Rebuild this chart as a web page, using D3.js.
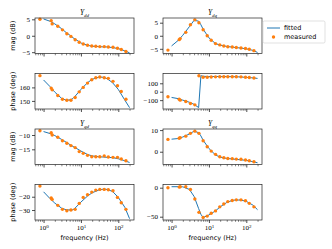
<!DOCTYPE html>
<html>
<head>
<meta charset="utf-8">
<script src="https://cdn.jsdelivr.net/npm/d3@7"></script>
<style>
  body { margin: 0; background: #fff; }
  svg { display: block; }
  .tick-label { font-family: "Liberation Serif", "DejaVu Serif", serif; font-size: 7px; fill: #000; }
  .axis-label { font-family: "DejaVu Sans", sans-serif; font-size: 6.5px; fill: #000; }
  .title { font-family: "Liberation Serif", "DejaVu Serif", serif; font-size: 7.5px; font-style: italic; }
  .legend-text { font-family: "DejaVu Sans", sans-serif; font-size: 6.5px; }
</style>
</head>
<body>
<div class="diagram-canvas"></div>
<script>
// measured frequencies (Hz) and fitted-curve frequencies
const freqMeas = [0.8, 1.6, 1.7, 2.4, 3.2, 4.2, 5.4, 7, 9, 11.5, 15, 19.5, 25, 32, 42, 54, 72, 95, 120, 160];
const freqFit = [1, 1.5, 2, 3, 4, 5.3, 6.1, 7, 10, 15, 20, 30, 40, 50, 70, 100, 150, 200];

// Y_dd
const magDdMeas = [5.0, 4.6, 3.6, 2.9, 1.8, 0.6, -0.2, -1.2, -2.0, -2.5, -2.9, -3.1, -3.2, -3.3, -3.3, -3.4, -3.5, -3.8, -4.2, -4.8];
const magDdFit = [5.1, 4.4, 3.6, 2.2, 1.0, 0.0, -0.6, -1.0, -2.2, -2.9, -3.2, -3.3, -3.4, -3.4, -3.6, -3.9, -4.6, -5.2];
const phDdMeas = [168.7, 159.5, 158.2, 154, 151.2, 150.5, 150.5, 152.5, 156.7, 160, 163.2, 165.7, 167.2, 167.7, 167.2, 166.7, 164.5, 161.2, 157, 151.2];
const phDdFit = [165.5, 160.5, 156.5, 152, 150.5, 150.8, 151.8, 153.5, 158.5, 163.5, 166, 167.6, 167.5, 166.5, 163.5, 158.5, 150.5, 145];

// Y_dq
const magDqMeas = [-5.5, -1.5, -1.1, 1.3, 4.2, 6.1, 5.0, 2.3, 0.0, -1.7, -3.0, -3.5, -3.9, -4.2, -4.3, -4.5, -4.7, -4.9, -5.2, -5.7];
const magDqFit = [-3.9, -1.8, 0.2, 3.5, 5.9, 5.6, 4.2, 2.5, -0.8, -3.0, -3.6, -4.1, -4.3, -4.5, -4.7, -5.0, -5.6, -6.4];
const phDqMeas = [-60, -88, -100, -116, -140, -156, 190, 172, 172, 175, 176, 178, 178, 178, 178, 178, 176, 172, 168, 162];
const phDqFit = [-68, -82, -100, -125, -150, -188, 190, 183, 180, 180, 180, 180, 179, 178, 175, 170, 164, 158];

// Y_qd
const magQdMeas = [-8.5, -9.2, -10, -10.8, -12, -12.9, -13.7, -14.4, -15.8, -16.4, -17.1, -17.6, -17.6, -17.6, -17.3, -17.7, -17.8, -17.8, -18.4, -19];
const magQdFit = [-8.8, -9.5, -10.2, -11.5, -12.5, -13.5, -14, -14.4, -15.6, -16.8, -17.3, -17.6, -17.7, -17.8, -17.9, -18.3, -19, -19.6];
const phQdMeas = [-12, -21, -22, -26.5, -29.5, -30.5, -30, -29.5, -25, -20.5, -18.5, -16.5, -15, -14.5, -14.5, -14.8, -15.5, -20.5, -24.5, -29.5];
const phQdFit = [-16.3, -21.5, -24.8, -28.5, -29.8, -30, -29.8, -28.5, -24, -19.5, -17, -15, -14.3, -14.5, -16, -20.5, -28, -36.5];

// Y_qq
const magQqMeas = [5.7, 6.2, 6.5, 7.2, 8.5, 9.5, 8.5, 5.1, 2.3, 0.3, -1.2, -2.3, -2.8, -3.1, -3.2, -3.4, -3.5, -3.8, -4.2, -4.6];
const magQqFit = [5.8, 6.1, 6.8, 8.2, 9.5, 8.8, 7.3, 5.3, 1.5, -1.5, -2.5, -3.1, -3.3, -3.5, -3.7, -4.0, -4.6, -5.1];
const phQqMeas = [0, 1, 1.5, 1.5, -3, -19.5, -42.5, -51.5, -49, -44, -40, -33, -28, -24, -22, -21, -21, -22.5, -27, -33];
const phQqFit = [1.7, 1.7, 1.5, -3, -15, -36, -46, -51.5, -47, -40, -33, -25.5, -22.5, -21.3, -21.3, -23.5, -30, -38];

// tick labels
const xTicksMajor = [1, 10, 100];
const yTicksMagDd = [-5, 0, 5];
const yTicksMagDq = [-5, 0, 5];
const yTicksPhDd = [150, 160];
const yTicksPhDq = [-100, 0, 100];
const yTicksMagQd = [-15, -10];
const yTicksMagQq = [0, 10];
const yTicksPhQd = [-30, -20];
const yTicksPhQq = [-50, 0];

const width = 332, height = 249;
const colX = [35, 163], axW = 99;
const rowY = [18, 73.5, 129, 184.5], axH = 35.5;
const blue = "#1f77b4", orange = "#ff7f0e";

const panels = [
  { col: 0, row: 0, meas: magDdMeas, fit: magDdFit, ticks: yTicksMagDd, domain: [-5.4, 5.4], title: ["Y", "dd"], ylabel: "mag (dB)" },
  { col: 1, row: 0, meas: magDqMeas, fit: magDqFit, ticks: yTicksMagDq, domain: [-6.8, 6.8], title: ["Y", "dq"] },
  { col: 0, row: 1, meas: phDdMeas, fit: phDdFit, ticks: yTicksPhDd, domain: [144, 170.3], ylabel: "phase (deg)" },
  { col: 1, row: 1, meas: phDqMeas, fit: phDqFit, ticks: yTicksPhDq, domain: [-205, 216] },
  { col: 0, row: 2, meas: magQdMeas, fit: magQdFit, ticks: yTicksMagQd, domain: [-20.3, -7.9], title: ["Y", "qd"], ylabel: "mag (dB)" },
  { col: 1, row: 2, meas: magQqMeas, fit: magQqFit, ticks: yTicksMagQq, domain: [-5.9, 10.5], title: ["Y", "qq"] },
  { col: 0, row: 3, meas: phQdMeas, fit: phQdFit, ticks: yTicksPhQd, domain: [-37.5, -10.8], ylabel: "phase (deg)", xlabel: true },
  { col: 1, row: 3, meas: phQqMeas, fit: phQqFit, ticks: yTicksPhQq, domain: [-55.7, 5.5], xlabel: true }
];

const svg = d3.select(".diagram-canvas").append("svg")
  .attr("width", width).attr("height", height);

const fmt = (v) => (v < 0 ? "\u2212" + Math.abs(v) : "" + v);

panels.forEach((p) => {
  const x0 = colX[p.col], y0 = rowY[p.row];
  const xScale = d3.scaleLog().domain([0.59, 263]).range([0, axW]);
  const yScale = d3.scaleLinear().domain(p.domain).range([axH, 0]);

  const g = svg.append("g").attr("transform", "translate(" + x0 + "," + y0 + ")");

  // fitted curve
  const line = d3.line().x((d, i) => xScale(freqFit[i])).y((d) => yScale(d));
  g.append("path").datum(p.fit)
    .attr("d", line).attr("fill", "none")
    .attr("stroke", blue).attr("stroke-width", 1);

  // measured points
  g.selectAll("circle").data(p.meas).enter().append("circle")
    .attr("cx", (d, i) => xScale(freqMeas[i]))
    .attr("cy", (d) => yScale(d))
    .attr("r", 1.7).attr("fill", orange);

  // y axis
  const yAxis = d3.axisLeft(yScale).tickValues(p.ticks).tickSize(3).tickPadding(2).tickFormat(fmt);
  const ya = g.append("g").call(yAxis);
  ya.select(".domain").remove();
  ya.selectAll("line").attr("stroke", "#000").attr("stroke-width", 0.7);
  ya.selectAll("text").attr("class", "tick-label").attr("font-family", null).attr("font-size", null);

  // x axis: major and minor ticks
  const minor = xScale.ticks().filter((t) => xTicksMajor.indexOf(t) < 0);
  const xMinor = d3.axisBottom(xScale).tickValues(minor).tickSize(1.8).tickFormat("");
  const xm = g.append("g").attr("transform", "translate(0," + axH + ")").call(xMinor);
  xm.select(".domain").remove();
  xm.selectAll("line").attr("stroke", "#000").attr("stroke-width", 0.5);

  const xMajor = d3.axisBottom(xScale).tickValues(xTicksMajor).tickSize(3).tickPadding(2).tickFormat("");
  const xM = g.append("g").attr("transform", "translate(0," + axH + ")").call(xMajor);
  xM.select(".domain").remove();
  xM.selectAll("line").attr("stroke", "#000").attr("stroke-width", 0.7);
  if (p.xlabel) {
    xM.selectAll(".tick").each(function (d) {
      const t = d3.select(this).append("text").attr("class", "tick-label")
        .attr("y", 10).attr("text-anchor", "middle");
      t.append("tspan").text("10");
      t.append("tspan").attr("dy", -2.5).attr("font-size", "5px").text(Math.round(Math.log10(d)));
    });
    g.append("text").attr("class", "axis-label")
      .attr("x", axW / 2).attr("y", axH + 20).attr("text-anchor", "middle")
      .text("frequency (Hz)");
  }

  // frame
  g.append("rect").attr("width", axW).attr("height", axH)
    .attr("fill", "none").attr("stroke", "#222").attr("stroke-width", 0.7);

  if (p.title) {
    const t = g.append("text").attr("class", "title")
      .attr("x", axW / 2).attr("y", -3).attr("text-anchor", "middle");
    t.append("tspan").text(p.title[0]);
    t.append("tspan").attr("dy", 1.5).attr("font-size", "5px").text(p.title[1]);
  }
  if (p.ylabel) {
    g.append("text").attr("class", "axis-label")
      .attr("transform", "translate(-20," + axH / 2 + ") rotate(-90)")
      .attr("text-anchor", "middle").text(p.ylabel);
  }
});

// legend
const lg = svg.append("g").attr("transform", "translate(263,21)");
lg.append("rect").attr("width", 62).attr("height", 22).attr("rx", 1.5)
  .attr("fill", "#fff").attr("stroke", "#ccc").attr("stroke-width", 0.6);
lg.append("line").attr("x1", 4).attr("x2", 17).attr("y1", 7).attr("y2", 7)
  .attr("stroke", blue).attr("stroke-width", 1);
lg.append("text").attr("class", "legend-text").attr("x", 21).attr("y", 9.3).text("fitted");
lg.append("circle").attr("cx", 10.5).attr("cy", 16).attr("r", 1.7).attr("fill", orange);
lg.append("text").attr("class", "legend-text").attr("x", 21).attr("y", 18.3).text("measured");
</script>
</body>
</html>
